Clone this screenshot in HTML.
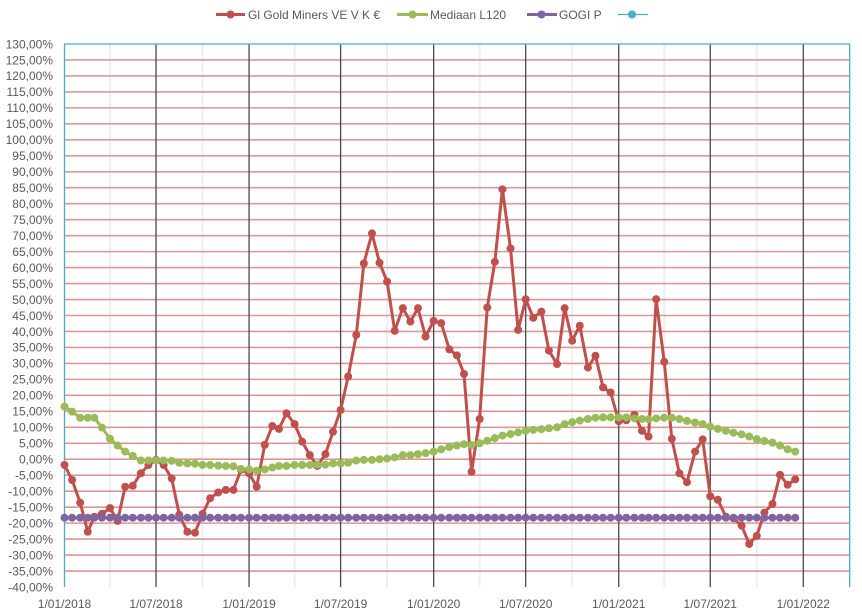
<!DOCTYPE html>
<html><head><meta charset="utf-8"><style>
html,body{margin:0;padding:0;background:#fff;}
svg{display:block;}
text{font-family:"Liberation Sans",Arial,sans-serif;font-size:12px;fill:#595959;}
</style></head><body>
<svg id="c" xmlns="http://www.w3.org/2000/svg" width="862" height="615" viewBox="0 0 862 615">
<rect width="862" height="615" fill="#fff"/>
<g id="grid"></g>
<g id="series"></g>
<g id="labels"></g>
<g id="legend">
 <line x1="216" y1="14.5" x2="245" y2="14.5" stroke="#c0504d" stroke-width="3"/>
 <circle cx="230.5" cy="14.5" r="4" fill="#c0504d"/>
 <text x="248" y="19">Gl Gold Miners VE V K €</text>
 <line x1="397" y1="14.5" x2="428" y2="14.5" stroke="#9bbb59" stroke-width="3"/>
 <circle cx="412.5" cy="14.5" r="4" fill="#9bbb59"/>
 <text x="430" y="19">Mediaan L120</text>
 <line x1="527" y1="14.5" x2="557" y2="14.5" stroke="#8064a2" stroke-width="3"/>
 <circle cx="541.5" cy="14.5" r="4" fill="#8064a2"/>
 <text x="559" y="19">GOGI P</text>
 <line x1="618" y1="14.5" x2="648" y2="14.5" stroke="#4bacc6" stroke-width="1.25"/>
 <circle cx="632" cy="14.5" r="4" fill="#4bacc6"/>
</g>
</svg>
<script>
(function(){
var NS="http://www.w3.org/2000/svg";
var L=64.5,R=849.7,T=44,B=587;
var base=Date.UTC(2018,0,1);
var pxPerDay=(803.3-64.5)/1461;
function xd(y,m,d){return L+((Date.UTC(y,m,d)-base)/86400000)*pxPerDay;}
function yv(v){return T+(130-v)*(B-T)/170;}
function el(tag,attrs,parent,txt){var e=document.createElementNS(NS,tag);for(var k in attrs)e.setAttribute(k,attrs[k]);if(txt!==undefined)e.textContent=txt;parent.appendChild(e);return e;}
var grid=document.getElementById('grid'),ser=document.getElementById('series'),lab=document.getElementById('labels');
// minor vertical (quarters)
var q=[[2018,3],[2018,9],[2019,3],[2019,9],[2020,3],[2020,9],[2021,3],[2021,9]];
q.forEach(function(a){var x=xd(a[0],a[1],1);el('line',{x1:x,y1:T,x2:x,y2:B,stroke:'#eeeeee','stroke-width':2},grid);});
// horizontal gridlines
for(var v=-35;v<=125;v+=5){var y=yv(v);el('line',{x1:L,y1:y,x2:R,y2:y,stroke:'#d69a99','stroke-width':1.6},grid);}
// major vertical (half years)
var mj=[[2018,6],[2019,0],[2019,6],[2020,0],[2020,6],[2021,0],[2021,6],[2022,0]];
mj.forEach(function(a){var x=xd(a[0],a[1],1);el('line',{x1:x,y1:T,x2:x,y2:B,stroke:'#4a4a4a','stroke-width':1.3},grid);});
// border
el('path',{d:'M'+L+' '+B+' L'+L+' '+T+' L'+R+' '+T+' L'+R+' '+B,fill:'none',stroke:'#4bacc6','stroke-width':1.3},grid);
// y labels
for(var v=130;v>=-40;v-=5){el('text',{x:53,y:yv(v)+4.3,'text-anchor':'end'},lab,v+',00%');}
// x labels
var xl=[[2018,0],[2018,6],[2019,0],[2019,6],[2020,0],[2020,6],[2021,0],[2021,6],[2022,0]];
xl.forEach(function(a){var x=xd(a[0],a[1],1);el('text',{x:x,y:608,'text-anchor':'middle','font-size':'12.5'},lab,'1/'+(a[1]==0?'01':'07')+'/'+a[0]);});
var red=[-1.8,-6.5,-13.6,-22.7,-18,-17.1,-15.3,-19.3,-8.6,-8.3,-4.4,-1.8,-0.2,-1.8,-6,-17.4,-22.7,-23,-17.1,-12.2,-10.4,-9.6,-9.6,-3.3,-4.4,-8.6,4.5,10.4,9.5,14.4,11,5.5,1.3,-2.1,1.6,8.6,15.4,25.9,38.9,61.3,70.7,61.5,55.6,40.2,47.3,43.1,47.3,38.4,43.3,42.6,34.4,32.5,26.7,-3.9,12.6,47.5,61.8,84.5,66,40.5,50.1,44.3,46.2,34,29.8,47.3,37.1,41.8,28.7,32.4,22.5,20.9,11.9,12.2,13.9,8.9,7.1,50.1,30.5,6.4,-4.4,-7.2,2.4,6.2,-11.6,-12.7,-18,-18.5,-20.8,-26.5,-24,-16.7,-14,-4.9,-8,-6.3];
var grn=[16.5,14.9,13,13,13,9.9,6.4,4.3,2.4,1,-0.4,-0.4,-0.4,-0.4,-0.5,-1.1,-1.3,-1.4,-1.8,-1.8,-2,-2.1,-2.2,-3,-3.2,-3.6,-3.2,-2.6,-2.1,-2.1,-1.8,-1.8,-1.8,-1.7,-1.7,-1.3,-1.3,-1.1,-0.4,-0.2,-0.2,0,0.2,0.6,1.3,1.3,1.6,1.9,2.4,3.1,3.8,4.3,4.7,4.4,5,5.8,6.6,7.4,7.9,8.4,8.9,9.2,9.4,9.7,10,11,11.6,12.1,12.6,13,13.1,13.1,13.1,13.1,12.8,12.6,12.5,12.8,13,13,12.6,12,11.5,11,10.2,9.5,8.9,8.3,7.8,7.1,6.3,5.7,5.2,4.3,3.1,2.4];
var xs=[];for(var i=0;i<96;i++){var yr=2018+Math.floor(i/24),m=Math.floor(i/2)%12,d=(i%2)?16:1;xs.push(xd(yr,m,d));}
function draw(data,color){var pts=data.map(function(v,i){return xs[i].toFixed(2)+','+yv(v).toFixed(2);}).join(' ');
 el('polyline',{points:pts,fill:'none',stroke:color,'stroke-width':3,'stroke-linejoin':'round'},ser);
 data.forEach(function(v,i){el('circle',{cx:xs[i].toFixed(2),cy:yv(v).toFixed(2),r:4,fill:color},ser);});}
draw(red,'#c0504d');
draw(grn,'#9bbb59');
var pur=[];for(var i=0;i<96;i++)pur.push(-18.3);
draw(pur,'#8064a2');
})();
</script>
</body></html>
